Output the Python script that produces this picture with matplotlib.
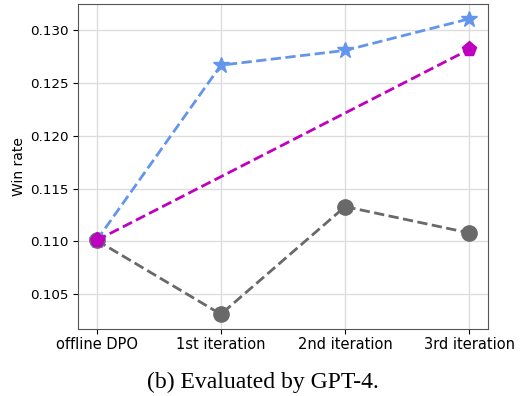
import numpy as np
import matplotlib
matplotlib.use('Agg')
import matplotlib.pyplot as plt

plt.rcParams['font.family'] = ['DejaVu Sans']

stages = ['offline DPO', '1st iteration', '2nd iteration', '3rd iteration']
gray_vals = [0.1101, 0.1031, 0.1133, 0.1108]
blue_vals = [0.1101, 0.1267, 0.1281, 0.1311]
magenta_idx = [0, 3]
magenta_vals = [0.1101, 0.1282]
yticks = [0.105, 0.110, 0.115, 0.120, 0.125, 0.130]

fig = plt.figure(figsize=(5.22, 3.96), dpi=100)
ax = fig.add_axes([0.1494, 0.1692, 0.7855, 0.8207])

x = np.arange(len(stages))
ax.plot(x, gray_vals, '--', color='dimgray', marker='o', markersize=11, linewidth=2)
ax.plot(x, blue_vals, '--', color='cornflowerblue', marker='*', markersize=12, linewidth=2)
ax.plot(magenta_idx, magenta_vals, '--', color='m', marker='p', markersize=11, linewidth=2)

ax.set_xticks(x)
ax.set_xticklabels(stages, fontsize=10.5)
ax.set_yticks(yticks)
ax.set_yticklabels(['%.3f' % v for v in yticks], fontsize=9.7)
ax.set_ylabel('Win rate', fontsize=10, labelpad=3)
ax.tick_params(axis='x', length=3.5, pad=2.5)
ax.tick_params(axis='y', length=3.5, pad=3)
ax.grid(True, color='#dddddd', linewidth=1)
ax.set_axisbelow(True)
for s in ax.spines.values():
    s.set_color('#555555')

fig.text(0.504, 0.021, '(b) Evaluated by GPT-4.', ha='center', va='baseline',
         fontsize=17, family='Liberation Serif')

fig.savefig('out.png', dpi=100)
